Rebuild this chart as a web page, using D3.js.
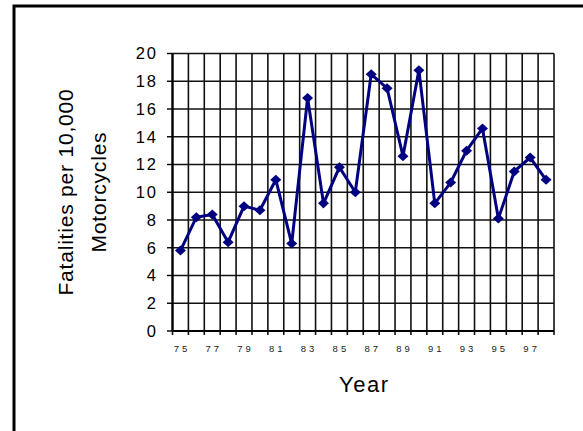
<!DOCTYPE html>
<html>
<head>
<meta charset="utf-8">
<script src="https://cdn.jsdelivr.net/npm/d3@7/dist/d3.min.js"></script>
<style>
  html, body { margin: 0; padding: 0; background: #fff; }
  svg { display: block; font-family: "Liberation Sans", Arial, sans-serif; }
</style>
</head>
<body>
<svg id="chart" width="583" height="431"></svg>
<script>
const years = ["75","76","77","78","79","80","81","82","83","84","85","86","87","88","89","90","91","92","93","94","95","96","97","98"];
const fatalities = [5.8, 8.2, 8.4, 6.4, 9.0, 8.7, 10.9, 6.3, 16.8, 9.2, 11.8, 10.0, 18.5, 17.5, 12.6, 18.8, 9.2, 10.7, 13.0, 14.6, 8.1, 11.5, 12.5, 10.9];
const xTickLabels = ["75","77","79","81","83","85","87","89","91","93","95","97"];
const yTicks = [0, 2, 4, 6, 8, 10, 12, 14, 16, 18, 20];
const yTitleLines = ["Fatalities per 10,000", "Motorcycles"];
const xTitle = "Year";

const svg = d3.select("#chart");
const L = 172.5, R = 554, T = 53.5, B = 331;

// outer frame (clipped at right/bottom)
svg.append("rect")
  .attr("x", 14).attr("y", 6).attr("width", 640).attr("height", 500)
  .attr("fill", "none").attr("stroke", "#000").attr("stroke-width", 3);

const x = d3.scaleBand().domain(years).range([L, R]).padding(0);
const y = d3.scaleLinear().domain([0, 20]).range([B, T]);
const cx = d => x(d) + x.bandwidth() / 2;

// horizontal gridlines
svg.append("g").selectAll("line").data(yTicks).join("line")
  .attr("x1", L).attr("x2", R)
  .attr("y1", d => y(d)).attr("y2", d => y(d))
  .attr("stroke", "#111").attr("stroke-width", 1.4);

// vertical gridlines at category boundaries
const bounds = years.map(d => x(d)).concat([R]);
svg.append("g").selectAll("line").data(bounds).join("line")
  .attr("x1", d => d).attr("x2", d => d)
  .attr("y1", T).attr("y2", B + 4)
  .attr("stroke", "#111").attr("stroke-width", 1.6);

// axes lines
svg.append("line").attr("x1", L).attr("x2", L).attr("y1", T).attr("y2", B)
  .attr("stroke", "#000").attr("stroke-width", 2.2);
svg.append("line").attr("x1", L).attr("x2", R).attr("y1", B).attr("y2", B)
  .attr("stroke", "#000").attr("stroke-width", 2.2);

// y ticks
svg.append("g").selectAll("line").data(yTicks).join("line")
  .attr("x1", L - 5.5).attr("x2", L)
  .attr("y1", d => y(d)).attr("y2", d => y(d))
  .attr("stroke", "#000").attr("stroke-width", 1.4);

svg.append("g").selectAll("text").data(yTicks).join("text")
  .attr("x", 158).attr("y", d => y(d)).attr("dy", "0.36em")
  .attr("text-anchor", "end")
  .style("font-size", "16.5px").style("letter-spacing", "2px")
  .attr("fill", "#000")
  .text(d => d);

// x tick labels
svg.append("g").selectAll("text").data(xTickLabels).join("text")
  .attr("x", d => cx(d) + 1.5).attr("y", 352)
  .attr("text-anchor", "middle")
  .style("font-size", "9.5px").style("letter-spacing", "3px")
  .attr("fill", "#222")
  .text(d => d);

// x title
svg.append("text")
  .attr("x", (L + R) / 2 + 1).attr("y", 392)
  .attr("text-anchor", "middle")
  .style("font-size", "22px").style("letter-spacing", "1.5px")
  .attr("fill", "#000")
  .text(xTitle);

// y title (two lines, rotated)
const yt = svg.append("text")
  .attr("transform", "translate(73,192) rotate(-90)")
  .attr("text-anchor", "middle")
  .style("font-size", "21px").style("letter-spacing", "0.8px")
  .attr("fill", "#000");
yt.selectAll("tspan").data(yTitleLines).join("tspan")
  .attr("x", 0).attr("y", (d, i) => i * 33)
  .text(d => d);

// data line
const pts = years.map((d, i) => [cx(d), y(fatalities[i])]);
svg.append("path")
  .attr("d", d3.line()(pts))
  .attr("fill", "none").attr("stroke", "#000080")
  .attr("stroke-width", 3).attr("stroke-linejoin", "miter");

// diamond markers
svg.append("g").selectAll("path").data(pts).join("path")
  .attr("transform", d => `translate(${d[0]},${d[1]})`)
  .attr("d", "M0,-5L5.5,0L0,5L-5.5,0Z")
  .attr("fill", "#000080");
</script>
</body>
</html>
